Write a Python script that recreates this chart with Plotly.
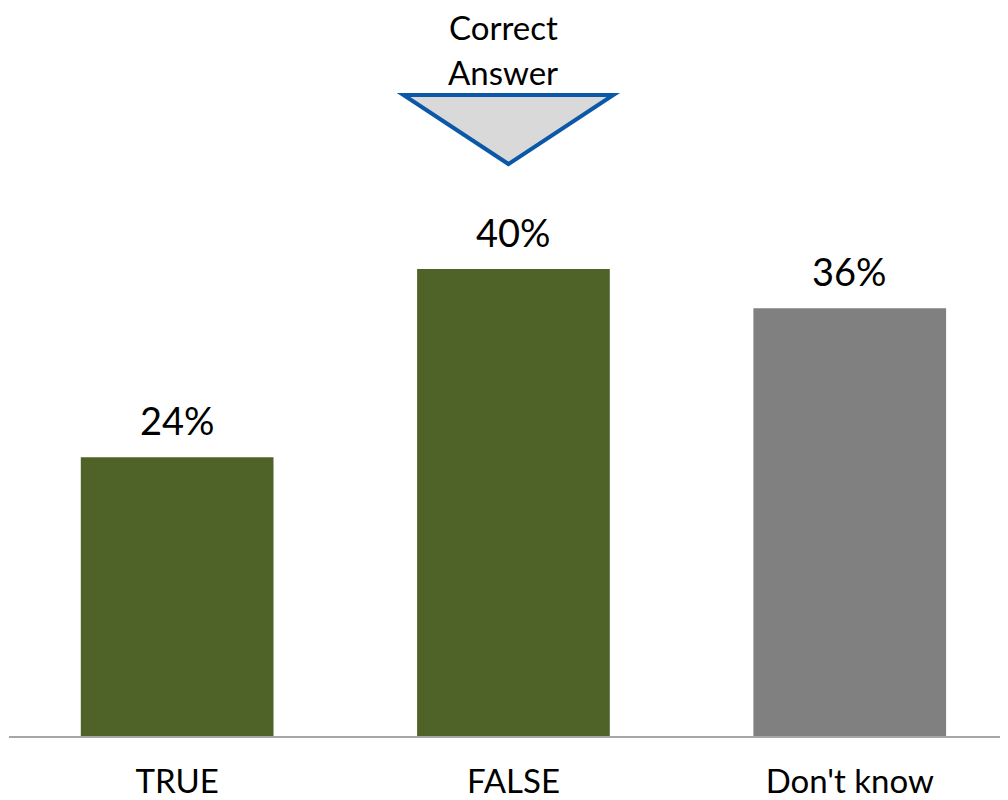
import plotly.graph_objects as go

categories = ["TRUE", "FALSE", "Don't know"]
values = [23.75, 39.8, 36.45]
bar_colors = ["#4F6228", "#4F6228", "#808080"]
correct_category = "FALSE"

FONT = "Lato, 'Noto Sans', sans-serif"

# browser body margin is 8px; plot area spans viewport y 8..736
PH = 728.0


def py(yv):
    """viewport pixel y -> paper fraction"""
    return (736 - yv) / PH


fig = go.Figure()
fig.add_trace(go.Bar(
    x=list(range(len(categories))),
    y=values,
    marker=dict(color=bar_colors, line=dict(width=0)),
    width=0.573,
    hoverinfo="skip",
))

# value labels
for i, v in enumerate(values):
    fig.add_annotation(
        x=i, y=v, xref="x", yref="y",
        text=f"{round(v):d}%", showarrow=False,
        yanchor="bottom", yshift=12,
        font=dict(family=FONT, size=38, color="#000000"),
    )

ci = categories.index(correct_category)
cx = ci - 0.015
hw = 0.312
fig.add_shape(
    type="path", xref="x", yref="paper",
    path=f"M {cx-hw} {py(95)} L {cx+hw} {py(95)} L {cx} {py(164)} Z",
    fillcolor="#D9D9D9", line=dict(color="#0B57A8", width=4),
)
fig.add_annotation(
    x=ci - 0.03, y=py(27), xref="x", yref="paper",
    text="Correct", showarrow=False, yanchor="middle",
    font=dict(family=FONT, size=33, color="#000000"),
)
fig.add_annotation(
    x=ci - 0.03, y=py(72), xref="x", yref="paper",
    text="Answer", showarrow=False, yanchor="middle",
    font=dict(family=FONT, size=33, color="#000000"),
)

fig.update_layout(
    width=1008, height=800,
    margin=dict(l=1, r=0, t=0, b=800 - int(PH), autoexpand=False),
    paper_bgcolor="white", plot_bgcolor="white",
    showlegend=False,
    xaxis=dict(
        range=[-0.5, -0.5 + 1007 / 336.3],
        tickmode="array", tickvals=list(range(len(categories))), ticktext=categories,
        tickfont=dict(family=FONT, size=33, color="#000000"),
        ticklabelstandoff=15,
        showline=True, linecolor="#A6A6A6", linewidth=2,
        showgrid=False, zeroline=False, ticks="",
        fixedrange=True,
    ),
    yaxis=dict(
        range=[0, PH / 11.734],
        showticklabels=False, showgrid=False, zeroline=False, showline=False,
        fixedrange=True,
    ),
)

fig.write_html("out.html")
